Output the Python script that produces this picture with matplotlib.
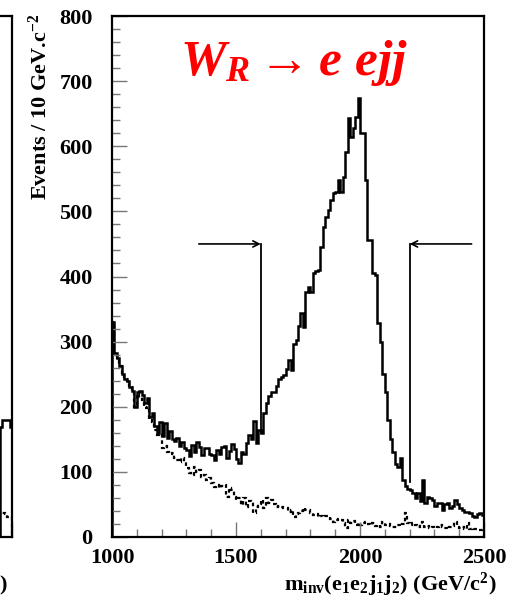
import numpy as np
import matplotlib.pyplot as plt

plt.rcParams['font.family'] = ['Liberation Serif', 'DejaVu Serif']
plt.rcParams['font.weight'] = 'bold'
plt.rcParams['mathtext.fontset'] = 'custom'
plt.rcParams['mathtext.rm'] = 'Liberation Serif:bold'
plt.rcParams['mathtext.bf'] = 'Liberation Serif:bold'
plt.rcParams['mathtext.it'] = 'Liberation Serif:italic:bold'

# invariant mass histogram, 10 GeV bins from 1000 to 2500
m_lo, m_hi, bin_w = 1000, 2500, 10

# signal + background
total = [330, 282, 275, 262, 250, 243, 240, 230, 224, 200,
         222, 224, 218, 205, 213, 184, 190, 170, 160, 176,
         155, 175, 152, 162, 150, 148, 152, 140, 146, 136,
         134, 124, 142, 130, 146, 138, 126, 136, 137, 128,
         126, 118, 134, 128, 138, 140, 122, 132, 143, 135,
         120, 114, 130, 128, 144, 156, 150, 178, 145, 165,
         160, 190, 205, 216, 222, 222, 232, 242, 246, 248,
         258, 272, 256, 296, 302, 324, 344, 323, 376, 384,
         376, 405, 408, 410, 446, 476, 492, 502, 517, 528,
         530, 548, 530, 553, 591, 643, 614, 628, 645, 674,
         620, 620, 548, 456, 456, 405, 402, 329, 300, 250,
         222, 180, 150, 130, 112, 108, 122, 88, 78, 74,
         72, 68, 60, 68, 55, 88, 52, 61, 60, 57,
         47, 52, 52, 42, 50, 52, 45, 48, 57, 50,
         44, 41, 39, 38, 37, 33, 31, 36, 37, 34]

# background only
background = [330, 282, 275, 262, 250, 243, 240, 230, 224, 200,
              220, 215, 210, 198, 200, 180, 176, 165, 156, 158,
              137, 140, 130, 128, 129, 122, 118, 115, 121, 115,
              106, 98, 95, 108, 100, 103, 92, 95, 88, 90,
              83, 77, 80, 75, 78, 80, 61, 75, 72, 61,
              57, 60, 49, 60, 46, 56, 54, 37, 46, 50,
              57, 45, 60, 52, 57, 50, 46, 48, 46, 45,
              45, 38, 42, 31, 36, 37, 40, 45, 42, 41,
              37, 34, 36, 31, 33, 30, 32, 31, 28, 23,
              26, 28, 26, 21, 14, 26, 21, 24, 18, 22,
              18, 22, 23, 20, 18, 21, 17, 19, 15, 23,
              18, 20, 17, 16, 15, 18, 17, 20, 37, 22,
              18, 21, 18, 16, 20, 23, 15, 17, 14, 16,
              14, 15, 18, 16, 14, 13, 15, 17, 23, 16,
              14, 15, 13, 21, 12, 14, 13, 12, 11, 14]

# neighbouring channel, last bins only
other_total = [169, 180, 180, 180, 169]
other_background = [37, 37, 36, 31, 30]

# mass window cuts
cut_lo, cut_hi = 1600, 2200
cut_arrow_y = 450
cut_lo_tail, cut_hi_tail = 1350, 2450
cut_lo_foot, cut_hi_foot = 160, 85

xlabel = r'$\mathrm{m_{inv}(e_1e_2j_1j_2)\ (GeV/c^2)}$'
ylabel = r'Events / 10 GeV.c$^{\mathrm{-2}}$'

W, H = 516, 605
fig = plt.figure(figsize=(W / 100, H / 100), dpi=100)

ax_l, ax_b, ax_w, ax_h = 112, 537, 372, 521
ax = fig.add_axes([ax_l / W, 1 - ax_b / H, ax_w / W, ax_h / H])
ax2 = fig.add_axes([(12 - ax_w) / W, 1 - ax_b / H, ax_w / W, ax_h / H])

edges = np.arange(m_lo, m_hi + bin_w, bin_w)
dash = (0, (1.6, 1.4))

ax.stairs(background, edges, color='black', lw=1.6, linestyle=dash)
ax.stairs(total, edges, color='black', lw=1.8)

edges2 = edges[-len(other_total) - 1:]
ax2.stairs(other_background, edges2, color='black', lw=1.6, linestyle=dash)
ax2.stairs(other_total, edges2, color='black', lw=1.8)

# cut arrows
arr = dict(arrowstyle='->', lw=1.2, color='black', mutation_scale=11,
           shrinkA=0, shrinkB=0)
ax.annotate('', xy=(cut_lo, cut_arrow_y), xytext=(cut_lo_tail, cut_arrow_y), arrowprops=arr)
ax.annotate('', xy=(cut_hi, cut_arrow_y), xytext=(cut_hi_tail, cut_arrow_y), arrowprops=arr)
ax.plot([cut_lo, cut_lo], [cut_arrow_y, cut_lo_foot], color='black', lw=1.3)
ax.plot([cut_hi, cut_hi], [cut_arrow_y, cut_hi_foot], color='black', lw=1.3)

for a in (ax, ax2):
    a.set_xlim(m_lo, m_hi)
    a.set_ylim(0, 800)
    for s in a.spines.values():
        s.set_linewidth(1.6)
    a.set_xticks([1000, 1500, 2000, 2500])
    a.set_xticks(np.arange(1000, 2501, 100), minor=True)
    a.set_yticks(np.arange(0, 801, 100))
    a.set_yticks(np.arange(0, 801, 20), minor=True)
    a.tick_params(which='both', direction='in', top=False, right=False,
                  color='#777777', width=1.0, labelsize=16)
    a.tick_params(which='major', length=11)
    a.tick_params(which='minor', length=6)
    a.tick_params(axis='y', pad=14)
    a.tick_params(axis='x', pad=8)

ax2.set_yticklabels([])
ax2.set_xticklabels([])

ax.text(0.183, 0.887, r'$W_R \rightarrow e\ ejj$', transform=ax.transAxes,
        color='red', fontsize=37, ha='left', va='baseline')

fig.text(40 / W, 1 - 14 / H, ylabel, rotation=90, ha='center', va='top', fontsize=16)
fig.text(390 / W, 1 - 591 / H, xlabel, ha='center', va='baseline', fontsize=16)
fig.text(8 / W, 1 - 591 / H, xlabel, ha='right', va='baseline', fontsize=16)

fig.savefig('out.png', dpi=100)
